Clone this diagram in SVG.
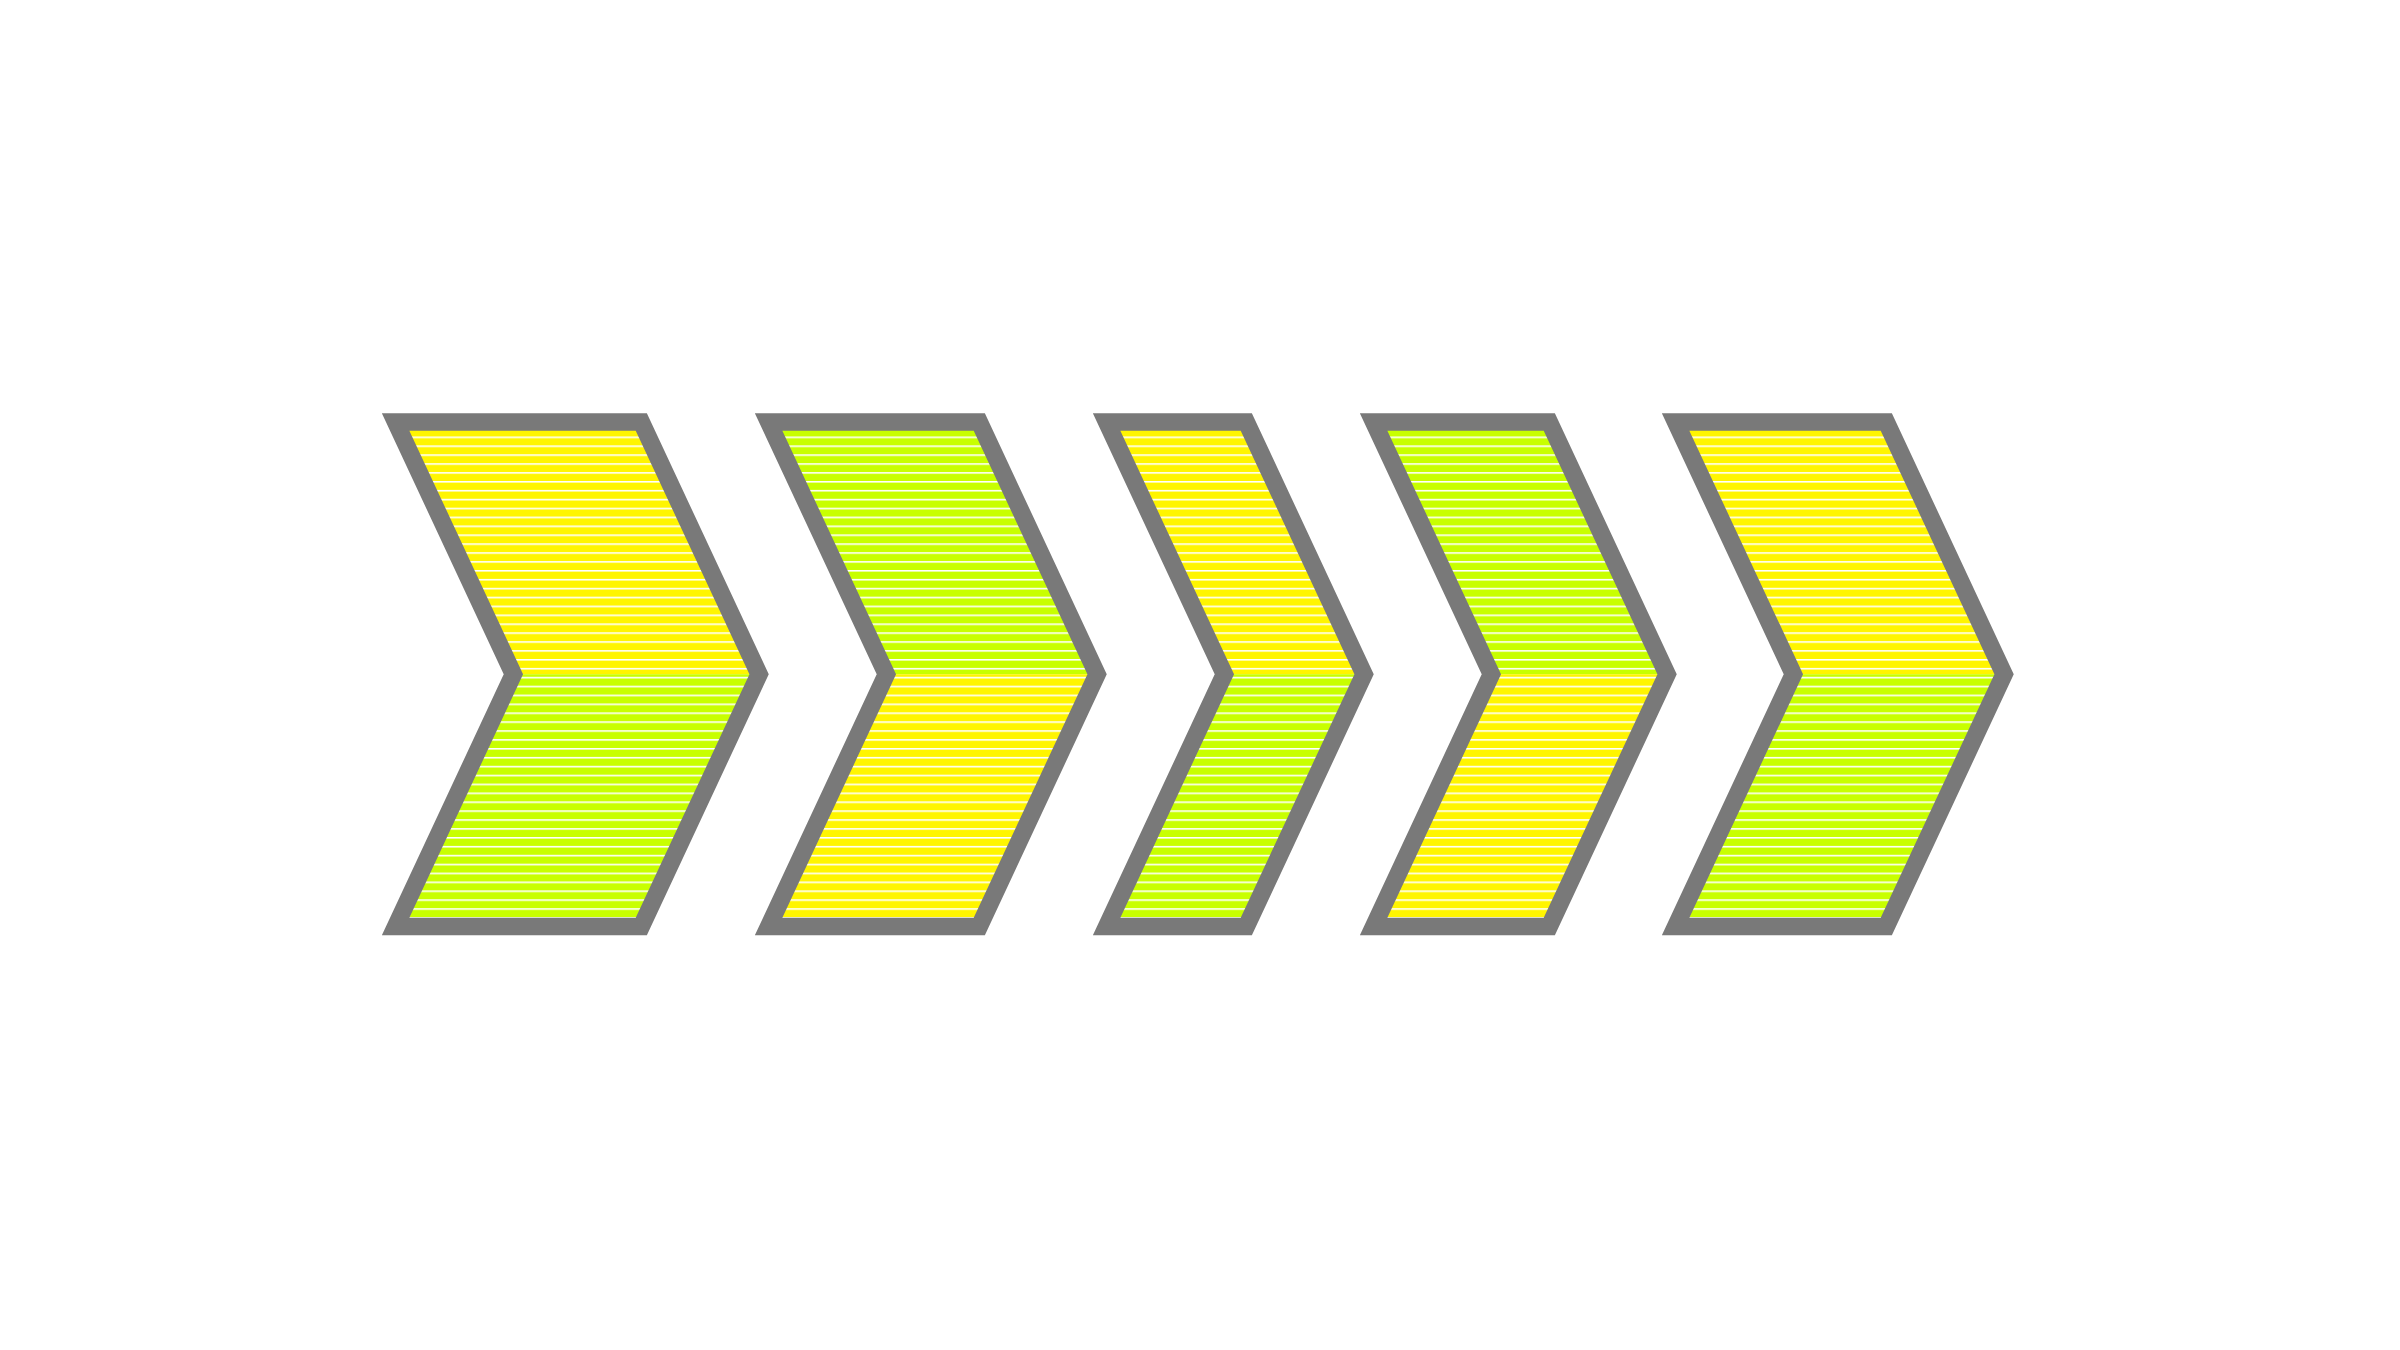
<svg xmlns="http://www.w3.org/2000/svg" width="2400" height="1350" viewBox="0 0 2400 1350">
  <defs>
    <pattern id="stripesY" patternUnits="userSpaceOnUse" x="0" y="436.5" width="20" height="8.9">
      <rect width="20" height="8.9" fill="#FFF500"/>
      <rect y="0" width="20" height="1.6" fill="#FFFFFF"/>
    </pattern>
    <pattern id="stripesG" patternUnits="userSpaceOnUse" x="0" y="436.5" width="20" height="8.9">
      <rect width="20" height="8.9" fill="#C8FF00"/>
      <rect y="0" width="20" height="1.6" fill="#FFFFFF"/>
    </pattern>
  </defs>
  <style>
    .y { fill: url(#stripesY); }
    .g { fill: url(#stripesG); }
    .outline { fill: none; stroke: #797979; stroke-width: 17.5; stroke-linejoin: miter; stroke-miterlimit: 10; }
  </style>
  <rect width="2400" height="1350" fill="#FFFFFF"/>

  <g id="chevron1">
    <polygon class="y" points="395.6,422 641.3,422 759.1,674.25 513.4,674.25"/>
    <polygon class="g" points="513.4,674.25 759.1,674.25 641.3,926.5 395.6,926.5"/>
    <polygon class="outline" points="395.6,422 641.3,422 759.1,674.25 641.3,926.5 395.6,926.5 513.4,674.25"/>
  </g>

  <g id="chevron2">
    <polygon class="g" points="768.6,422 979.3,422 1097.1,674.25 886.4,674.25"/>
    <polygon class="y" points="886.4,674.25 1097.1,674.25 979.3,926.5 768.6,926.5"/>
    <polygon class="outline" points="768.6,422 979.3,422 1097.1,674.25 979.3,926.5 768.6,926.5 886.4,674.25"/>
  </g>

  <g id="chevron3">
    <polygon class="y" points="1106.6,422 1246.3,422 1364.1,674.25 1224.4,674.25"/>
    <polygon class="g" points="1224.4,674.25 1364.1,674.25 1246.3,926.5 1106.6,926.5"/>
    <polygon class="outline" points="1106.6,422 1246.3,422 1364.1,674.25 1246.3,926.5 1106.6,926.5 1224.4,674.25"/>
  </g>

  <g id="chevron4">
    <polygon class="g" points="1373.6,422 1549.3,422 1667.1,674.25 1491.4,674.25"/>
    <polygon class="y" points="1491.4,674.25 1667.1,674.25 1549.3,926.5 1373.6,926.5"/>
    <polygon class="outline" points="1373.6,422 1549.3,422 1667.1,674.25 1549.3,926.5 1373.6,926.5 1491.4,674.25"/>
  </g>

  <g id="chevron5">
    <polygon class="y" points="1675.6,422 1886.3,422 2004.1,674.25 1793.4,674.25"/>
    <polygon class="g" points="1793.4,674.25 2004.1,674.25 1886.3,926.5 1675.6,926.5"/>
    <polygon class="outline" points="1675.6,422 1886.3,422 2004.1,674.25 1886.3,926.5 1675.6,926.5 1793.4,674.25"/>
  </g>

  <g id="connectors"></g>
</svg>
